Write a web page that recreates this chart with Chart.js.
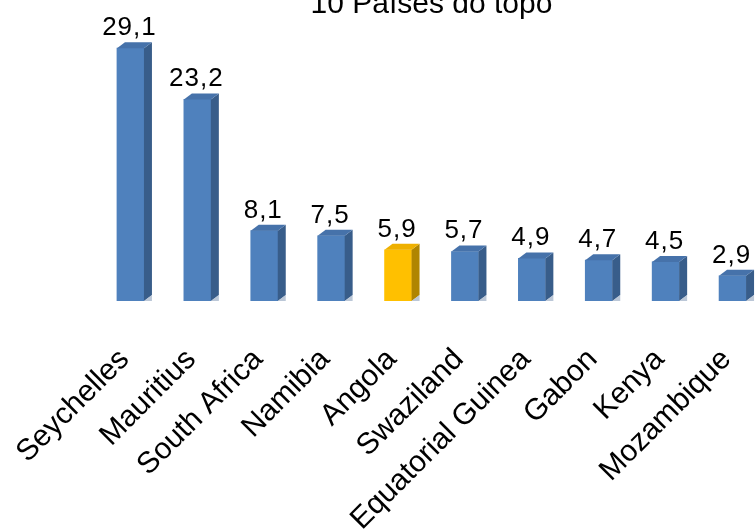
<!DOCTYPE html>
<html>
<head>
<meta charset="utf-8">
<script src="https://cdn.jsdelivr.net/npm/chart.js@4.4.1/dist/chart.umd.min.js"></script>
<style>
  html, body { margin: 0; padding: 0; background: #fff; overflow: hidden; width: 755px; height: 531px; }
  #wrap { position: absolute; left: 0; top: -13px; width: 790px; height: 600px; }
</style>
</head>
<body>
<div id="wrap"><canvas id="topChart" width="790" height="600"></canvas></div>
<script>
// dados
var paises = ['Seychelles', 'Mauritius', 'South Africa', 'Namibia', 'Angola', 'Swaziland', 'Equatorial Guinea', 'Gabon', 'Kenya', 'Mozambique'];
var valores = [29.1, 23.2, 8.1, 7.5, 5.9, 5.7, 4.9, 4.7, 4.5, 2.9];
var destaque = 'Angola';

var fonte = "'Liberation Sans', Arial, sans-serif";

// cores: frente, lado e topo de cada barra
var corFrente = paises.map(function(p) { return p === destaque ? '#ffc000' : '#4f81bd'; });
var corLado = paises.map(function(p) { return p === destaque ? '#b08500' : '#385d8a'; });
var corTopo = paises.map(function(p) { return p === destaque ? '#eeb000' : '#4672aa'; });

// desenha as faces lateral e superior (efeito 3D) e os rótulos de valor
var barras3d = {
    id: 'barras3d',
    afterDatasetsDraw: function(chart) {
        var ctx = chart.ctx;
        var meta = chart.getDatasetMeta(0);
        var dx = 8, dy = 6;
        ctx.save();
        meta.data.forEach(function(bar, i) {
            var w = bar.width;
            var esq = bar.x - w / 2, dir = bar.x + w / 2;
            var topo = bar.y, base = bar.base;

            // lado
            ctx.fillStyle = corLado[i];
            ctx.beginPath();
            ctx.moveTo(dir, topo);
            ctx.lineTo(dir + dx, topo - dy);
            ctx.lineTo(dir + dx, base - dy);
            ctx.lineTo(dir, base);
            ctx.closePath();
            ctx.fill();

            // sombra clara no pé
            ctx.fillStyle = 'rgba(170,185,205,0.8)';
            ctx.beginPath();
            ctx.moveTo(dir, base);
            ctx.lineTo(dir + dx, base - dy);
            ctx.lineTo(dir + dx, base);
            ctx.closePath();
            ctx.fill();

            // topo
            ctx.fillStyle = corTopo[i];
            ctx.beginPath();
            ctx.moveTo(esq, topo);
            ctx.lineTo(esq + dx, topo - dy);
            ctx.lineTo(dir + dx, topo - dy);
            ctx.lineTo(dir, topo);
            ctx.closePath();
            ctx.fill();

            // valor
            ctx.fillStyle = '#000';
            ctx.font = '26px ' + fonte;
            ctx.letterSpacing = '1px';
            ctx.textAlign = 'center';
            ctx.textBaseline = 'alphabetic';
            ctx.fillText(valores[i].toFixed(1).replace('.', ','), bar.x - 1, topo - 13);
        });
        ctx.restore();
    }
};

var ctx = document.getElementById('topChart').getContext('2d');
var chart = new Chart(ctx, {
    type: 'bar',
    data: {
        labels: paises,
        datasets: [{
            data: valores,
            backgroundColor: corFrente,
            borderWidth: 0,
            barThickness: 27
        }]
    },
    options: {
        responsive: false,
        animation: false,
        layout: {
            padding: { left: 97, right: 24, top: 0, bottom: 0 }
        },
        plugins: {
            legend: { display: false },
            tooltip: { enabled: false },
            title: {
                display: true,
                text: '10 Países do topo',
                color: '#000',
                font: { family: fonte, size: 30, weight: 'normal' },
                padding: { top: 0, bottom: 0 }
            }
        },
        scales: {
            x: {
                grid: { display: false, drawTicks: false },
                border: { display: false },
                ticks: {
                    color: '#000',
                    font: { family: fonte, size: 30 },
                    minRotation: 45,
                    maxRotation: 45,
                    padding: 41,
                    labelOffset: -6,
                    autoSkip: false
                },
                afterFit: function(scale) {
                    // altura fixa e sem margem lateral extra dos rótulos inclinados
                    scale.height = 286;
                    scale.paddingLeft = 0;
                    scale.paddingRight = 0;
                }
            },
            y: {
                display: false,
                min: 0,
                max: 32
            }
        }
    },
    plugins: [barras3d]
});
</script>
</body>
</html>
